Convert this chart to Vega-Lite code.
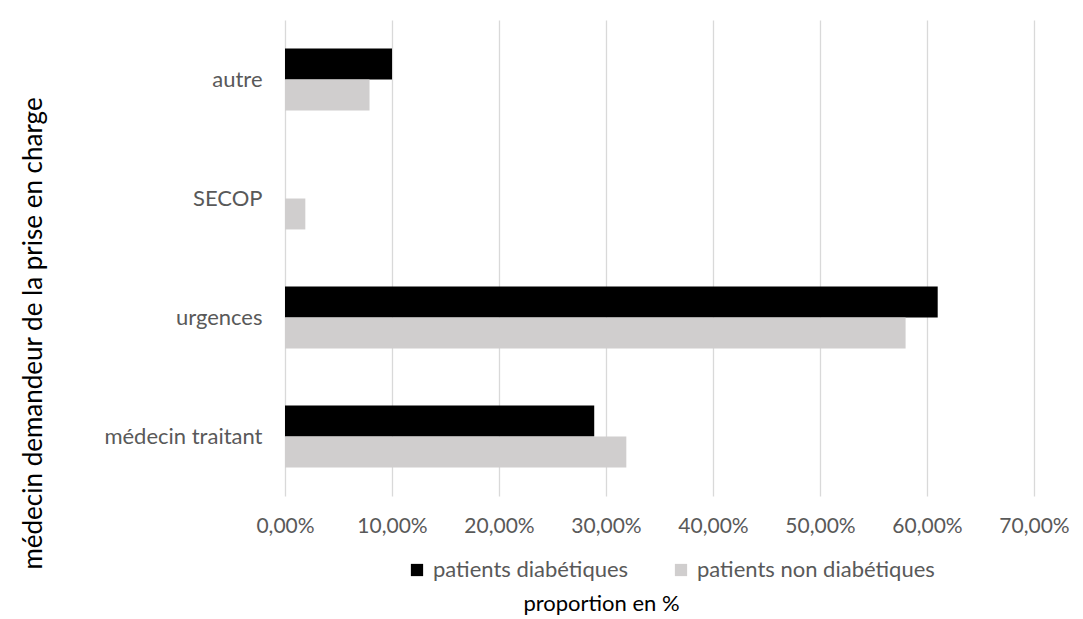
{
  "$schema": "https://vega.github.io/schema/vega-lite/v6.json",
  "width": 749,
  "height": 476,
  "autosize": {"type": "none"},
  "padding": {"left": 285, "top": 20, "right": 49, "bottom": 123},
  "background": "white",
  "data": {
    "values": [
      {"categorie": "autre", "groupe": "patients diabétiques", "proportion": 0.10},
      {"categorie": "autre", "groupe": "patients non diabétiques", "proportion": 0.079},
      {"categorie": "SECOP", "groupe": "patients diabétiques", "proportion": 0.0},
      {"categorie": "SECOP", "groupe": "patients non diabétiques", "proportion": 0.019},
      {"categorie": "urgences", "groupe": "patients diabétiques", "proportion": 0.61},
      {"categorie": "urgences", "groupe": "patients non diabétiques", "proportion": 0.58},
      {"categorie": "médecin traitant", "groupe": "patients diabétiques", "proportion": 0.289},
      {"categorie": "médecin traitant", "groupe": "patients non diabétiques", "proportion": 0.319}
    ]
  },
  "mark": {"type": "bar"},
  "encoding": {
    "y": {
      "field": "categorie",
      "type": "nominal",
      "sort": ["autre", "SECOP", "urgences", "médecin traitant"],
      "scale": {"paddingInner": 0.48, "paddingOuter": 0.24},
      "axis": {
        "title": "médecin demandeur de la prise en charge",
        "titleFont": "Lato",
        "titleFontSize": 26,
        "titleFontWeight": "normal",
        "titleColor": "#000000",
        "titleAngle": -90,
        "titleBaseline": "middle",
        "titleAlign": "center",
        "titleX": -252,
        "titleY": 313,
        "titleLimit": 0,
        "labelFont": "Lato",
        "labelFontSize": 22,
        "labelColor": "#595959",
        "labelPadding": 23,
        "labelLimit": 0,
        "ticks": false,
        "tickSize": 0,
        "domain": false,
        "grid": false
      }
    },
    "yOffset": {
      "field": "groupe",
      "type": "nominal",
      "sort": ["patients diabétiques", "patients non diabétiques"]
    },
    "x": {
      "field": "proportion",
      "type": "quantitative",
      "scale": {"domain": [0, 0.7], "nice": false},
      "axis": {
        "values": [0, 0.1, 0.2, 0.3, 0.4, 0.5, 0.6, 0.7],
        "labelExpr": "replace(format(datum.value * 100, '.2f'), '.', ',') + '%'",
        "title": "proportion en %",
        "titleFont": "Lato",
        "titleFontSize": 22,
        "titleFontWeight": "normal",
        "titleColor": "#000000",
        "titleX": 316,
        "titleY": 107,
        "titleBaseline": "middle",
        "titleAlign": "center",
        "labelFont": "Lato",
        "labelFontSize": 21,
        "labelColor": "#595959",
        "labelPadding": 19,
        "labelOverlap": false,
        "labelFlush": false,
        "labelBound": false,
        "ticks": false,
        "tickSize": 0,
        "domain": false,
        "grid": true,
        "gridColor": "#d9d9d9",
        "gridWidth": 1.3
      }
    },
    "color": {
      "field": "groupe",
      "type": "nominal",
      "sort": ["patients diabétiques", "patients non diabétiques"],
      "scale": {"range": ["#000000", "#d0cece"]},
      "legend": {
        "title": null,
        "orient": "none",
        "direction": "horizontal",
        "legendX": 121,
        "legendY": 539,
        "symbolType": "square",
        "symbolSize": 150,
        "symbolStrokeWidth": 0,
        "symbolOpacity": 1,
        "labelFont": "Lato",
        "labelFontSize": 22,
        "labelColor": "#595959",
        "labelOffset": 5,
        "labelLimit": 0,
        "columnPadding": 41
      }
    }
  },
  "config": {
    "view": {"stroke": null}
  }
}
